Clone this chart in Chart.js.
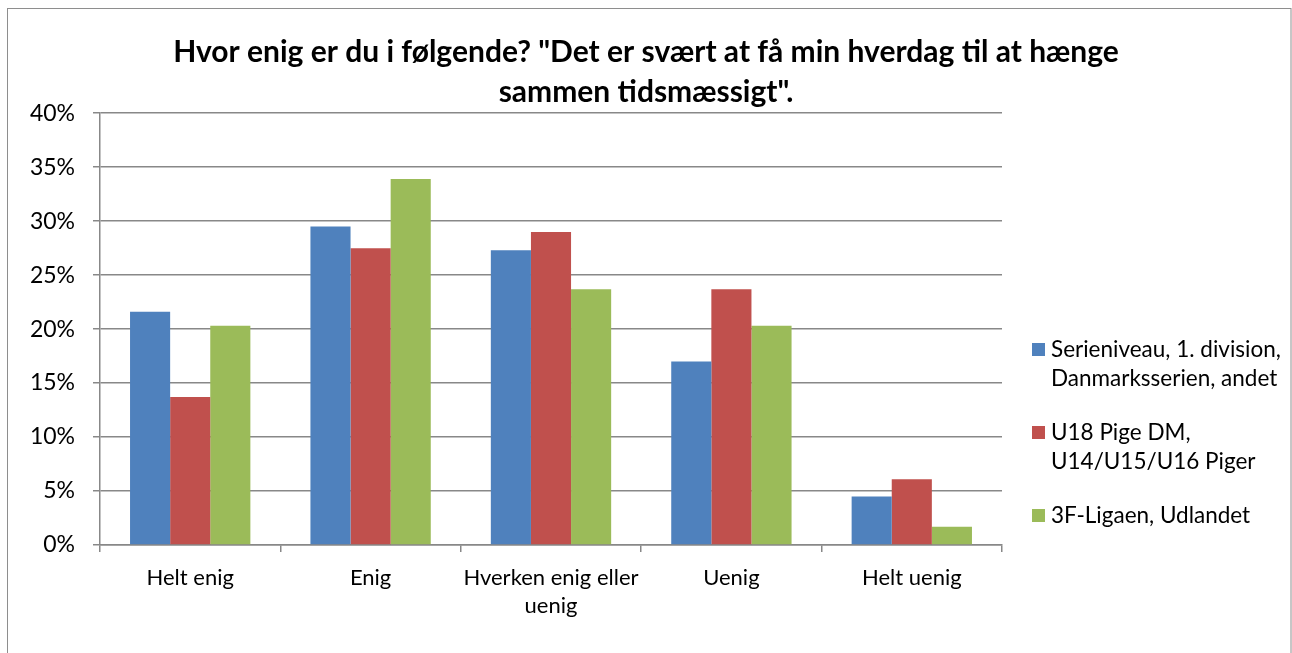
<!DOCTYPE html>
<html>
<head>
<meta charset="utf-8">
<script src="https://cdn.jsdelivr.net/npm/chart.js@4"></script>
<style>
  html, body { margin: 0; padding: 0; background: #fff; }
  #wrap { width: 1292px; height: 653px; }
</style>
</head>
<body>
<div id="wrap"><canvas id="myChart" width="1292" height="653"></canvas></div>
<script>
const categories = ['Helt enig', 'Enig', ['Hverken enig eller', 'uenig'], 'Uenig', 'Helt uenig'];
const seriesNames = [
  ['Serieniveau, 1. division,', 'Danmarksserien, andet'],
  ['U18 Pige DM,', 'U14/U15/U16 Piger'],
  ['3F-Ligaen, Udlandet']
];
const seriesColors = ['#4F81BD', '#C0504D', '#9BBB59'];
const serieniveau = [21.6, 29.5, 27.3, 17.0, 4.5];
const u18 = [13.7, 27.5, 29.0, 23.7, 6.1];
const ligaen = [20.3, 33.9, 23.7, 20.3, 1.7];
const yMax = 40;
const yStep = 5;

const FONT = 'Lato, "Open Sans", sans-serif';
const GRID = '#888888';

// ramme rundt om diagrammet
const frame = {
  id: 'frame',
  beforeDraw(chart) {
    const c = chart.ctx;
    c.save();
    c.strokeStyle = '#8e8e8e';
    c.lineWidth = 1;
    c.strokeRect(7.5, 8.5, 1283.5, 700);
    c.restore();
  }
};

// legende med flere linjer
const sideLegend = {
  id: 'sideLegend',
  afterDraw(chart) {
    const c = chart.ctx;
    c.save();
    c.font = '22.5px ' + FONT;
    c.textBaseline = 'middle';
    let y = 350;
    chart.data.datasets.forEach((ds, i) => {
      c.fillStyle = ds.backgroundColor;
      c.fillRect(1032, y - 7, 13, 13);
      c.fillStyle = '#000';
      seriesNames[i].forEach((line, j) => {
        c.fillText(line, 1051, y + j * 29);
      });
      y += seriesNames[i].length * 29 + 25;
    });
    c.restore();
  }
};

const ctx = document.getElementById('myChart').getContext('2d');
new Chart(ctx, {
  type: 'bar',
  data: {
    labels: categories,
    datasets: [
      { label: seriesNames[0].join(' '), data: serieniveau, backgroundColor: seriesColors[0] },
      { label: seriesNames[1].join(' '), data: u18, backgroundColor: seriesColors[1] },
      { label: seriesNames[2].join(' '), data: ligaen, backgroundColor: seriesColors[2] }
    ]
  },
  options: {
    responsive: false,
    animation: false,
    layout: { padding: { top: 9, right: 0, bottom: 0, left: 0 } },
    datasets: { bar: { categoryPercentage: 0.667, barPercentage: 1, borderWidth: 0 } },
    plugins: {
      legend: { display: false },
      tooltip: { enabled: false },
      title: {
        display: true,
        text: ['Hvor enig er du i følgende? "Det er svært at få min hverdag til at hænge', 'sammen tidsmæssigt".'],
        color: '#000',
        font: { family: FONT, size: 30, weight: 'bold', lineHeight: 1.32 },
        padding: { top: 24, bottom: 1 }
      }
    },
    scales: {
      x: {
        afterFit(s) { s.height = 108; },
        grid: { display: true, drawOnChartArea: false, drawTicks: true, tickLength: 7, color: GRID, lineWidth: 1.5 },
        border: { color: GRID, width: 1.5 },
        ticks: { color: '#000', padding: 12, font: { family: FONT, size: 22, lineHeight: 1.27 }, maxRotation: 0, autoSkip: false }
      },
      y: {
        min: 0,
        max: yMax,
        afterFit(s) { s.width = 100; },
        grid: { color: GRID, lineWidth: 1.5, tickLength: 7 },
        border: { color: GRID, width: 1.5 },
        ticks: {
          stepSize: yStep,
          color: '#000',
          padding: 18,
          font: { family: FONT, size: 23 },
          callback: v => v + '%'
        }
      },
      // tom plads til legenden i højre side
      space: {
        position: 'right',
        afterFit(s) { s.width = 290; },
        grid: { display: false },
        border: { display: false },
        ticks: { display: false }
      }
    }
  },
  plugins: [frame, sideLegend]
});
</script>
</body>
</html>
